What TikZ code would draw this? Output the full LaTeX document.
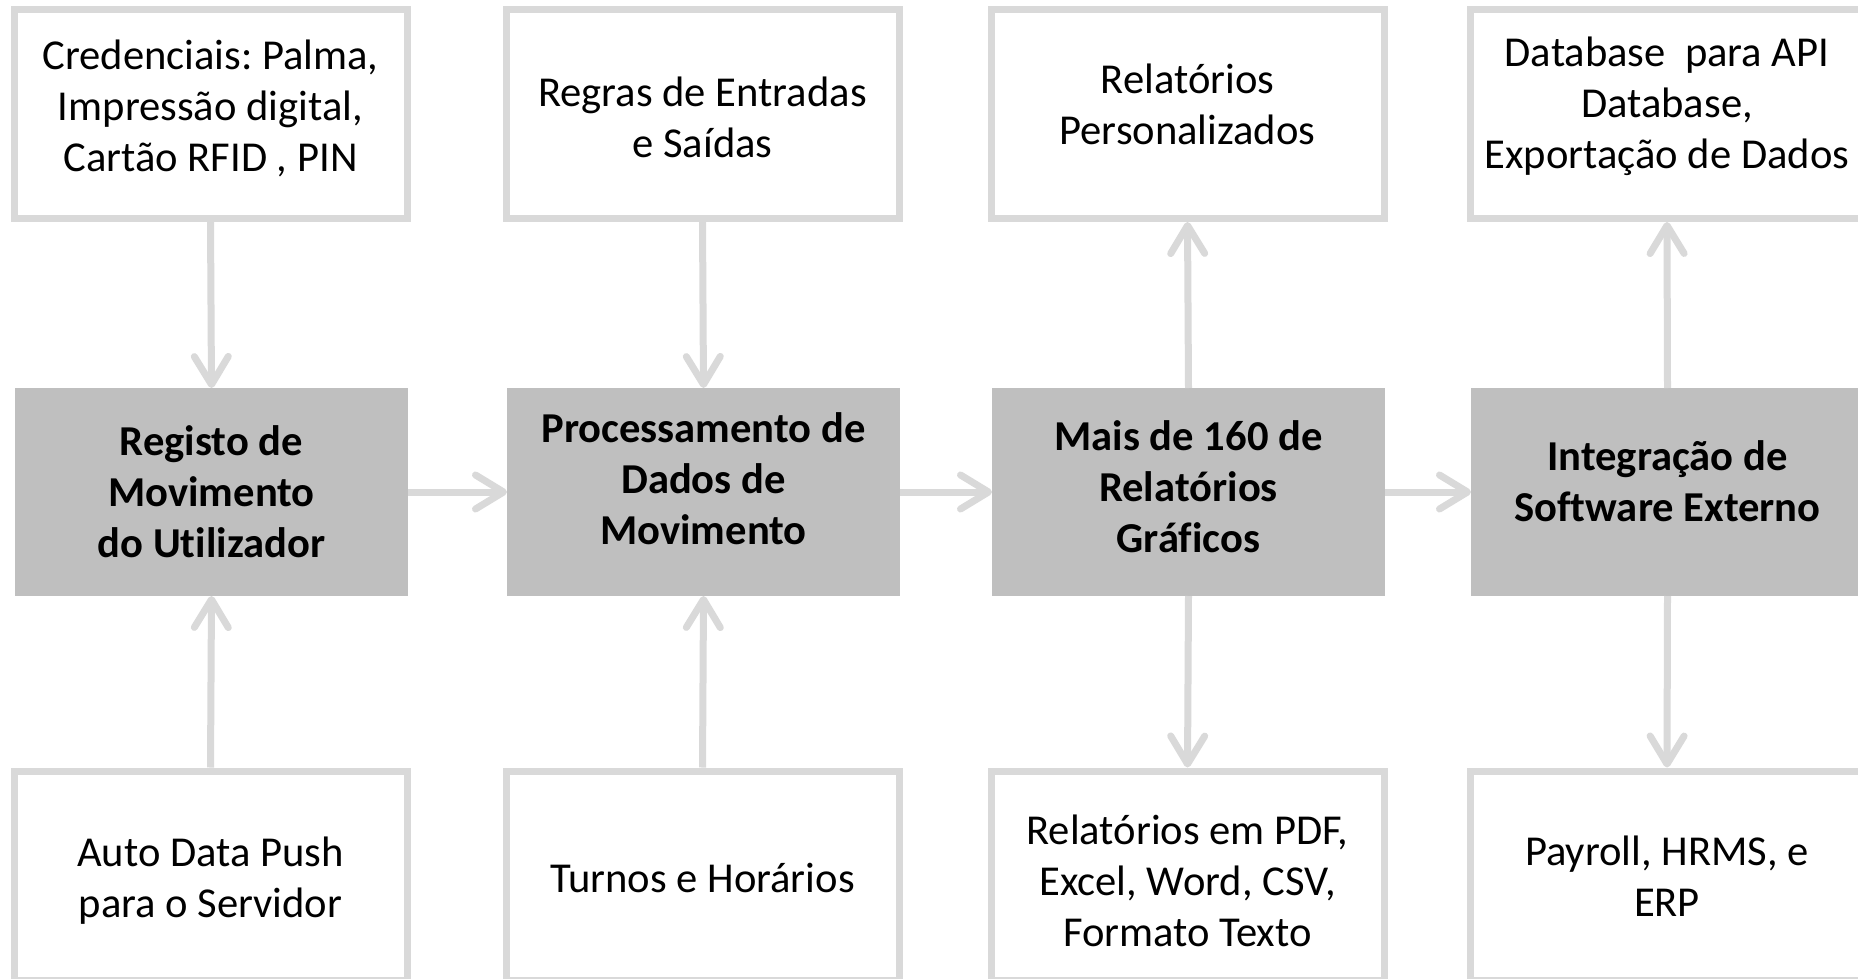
\documentclass[tikz,border=0pt]{standalone}
\usepackage{fontspec}
\setmainfont{Carlito}[Ligatures=NoCommon]
\usetikzlibrary{arrows.meta}
\definecolor{bordergray}{HTML}{D9D9D9}
\definecolor{fillgray}{HTML}{BFBFBF}
\frenchspacing
\begin{document}
\begin{tikzpicture}[x=1pt,y=-1pt,
  whitebox/.style={draw=bordergray, line width=7pt, fill=white, minimum width=393pt, minimum height=209pt, inner sep=0pt},
  graybox/.style={fill=fillgray, minimum width=393pt, minimum height=208pt, inner sep=0pt, outer sep=0pt},
  plaintext/.style={inner sep=0pt, align=center, font=\fontsize{42.6}{51}\selectfont\frenchspacing},
  boldtext/.style={plaintext, font=\fontsize{42.6}{51}\selectfont\bfseries\frenchspacing},
  conn/.style={draw=bordergray, line width=7pt, -{Straight Barb[length=28pt,width=34pt,round]}}
]
\clip (0,0) rectangle (1858,979);
\fill[white] (0,0) rectangle (1858,979);
% top boxes
\node[whitebox] (t1) at (210.5,114) {};
\node[whitebox] (t2) at (702.5,114) {};
\node[whitebox] (t3) at (1187.5,114) {};
\node[whitebox] (t4) at (1667,114) {};
\node[plaintext] (t1x) at (210.5,108.5) {Credenciais: Palma,\\Impressão digital,\\Cartão RFID , PIN};
\node[plaintext] (t2x) at (702.5,117.5) {Regras de Entradas\\e Saídas};
\node[plaintext] (t3x) at (1187.5,104.5) {Relatórios\\Personalizados};
\node[plaintext] (t4x) at (1667,106) {Database\ \ para API\\Database,\\Exportação de Dados};
% gray boxes
\node[graybox] (g1) at (211.5,492) {};
\node[graybox] (g2) at (703.5,492) {};
\node[graybox] (g3) at (1188.5,492) {};
\node[graybox] (g4) at (1667.5,492) {};
\node[boldtext] (g1x) at (211.5,492) {Registo de\\Movimento\\do Utilizador};
\node[boldtext] (g2x) at (703.5,479) {Processamento de\\Dados de\\Movimento};
\node[boldtext] (g3x) at (1188.5,487) {Mais de 160 de\\Relatórios\\Gráficos};
\node[boldtext] (g4x) at (1667.5,481) {Integração de\\Software Externo};
% bottom boxes
\node[whitebox] (b1) at (210.5,875.5) {};
\node[whitebox] (b2) at (702.5,875.5) {};
\node[whitebox] (b3) at (1187.5,875.5) {};
\node[whitebox] (b4) at (1667,875.5) {};
\node[plaintext] (b1x) at (210.5,880.5) {Auto Data Push\\para o Servidor};
\node[plaintext] (b2x) at (702.5,878) {Turnos e Horários};
\node[plaintext] (b3x) at (1187.5,880.5) {Relatórios em PDF,\\Excel, Word, CSV,\\Formato Texto};
\node[plaintext] (b4x) at (1667,876.5) {Payroll, HRMS, e\\ERP};
% horizontal connectors
\draw[conn] (g1) -- (g2);
\draw[conn] (g2) -- (g3);
\draw[conn] (g3) -- (g4);
% vertical connectors
\draw[conn] (t1.south) -- (g1.north);
\draw[conn] (b1.north) -- (g1.south);
\draw[conn] (t2.south) -- (g2.north);
\draw[conn] (b2.north) -- (g2.south);
\draw[conn] (g3.north) -- (t3.south);
\draw[conn] (g3.south) -- (b3.north);
\draw[conn] (g4.north) -- (t4.south);
\draw[conn] (g4.south) -- (b4.north);
\end{tikzpicture}
\end{document}
